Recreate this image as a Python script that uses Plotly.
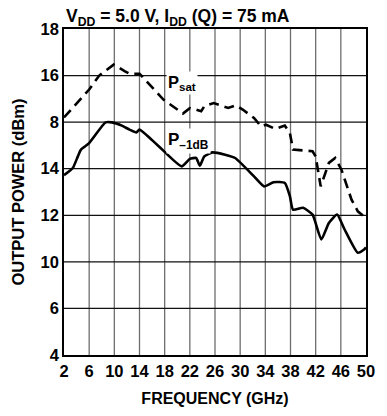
import plotly.graph_objects as go

# Data
freq_sat = [2, 4, 6, 7.6, 9.9, 11.7, 12.4, 14, 15.8, 17.8, 20.9, 22, 23, 23.8, 24.3, 25.8, 28.1, 29.3,
            30.4, 32.2, 33.3, 34.1, 35.6, 37.1, 37.9, 38.4, 41.5, 42, 42.8, 44.1, 45.1, 46.1, 47.7, 48.7, 50]
p_sat = [14.2, 14.8, 15.4, 16.0, 16.47, 16.18, 16.08, 16.08, 15.54, 14.97, 14.37, 14.6, 14.54, 14.47,
         14.68, 14.82, 14.61, 14.72, 14.54, 14.18, 13.82, 13.89, 13.71, 13.85, 13.54, 12.82, 12.75, 12.53,
         11.24, 12.25, 12.46, 11.96, 10.67, 10.17, 9.88]

freq_p1 = [2, 3.4, 4.2, 4.7, 6.0, 8.6, 9.6, 11.2, 12.4, 13.5, 14, 16.8, 20.7, 22, 23, 23.6, 24.3, 25.6,
           27.6, 29.2, 32.2, 33.8, 35.3, 37.1, 37.9, 38.4, 40, 41.5, 42.9, 44.1, 45.4, 46.6, 48.7, 49.7, 50]
p_1db = [11.72, 12.03, 12.53, 12.82, 13.1, 13.99, 13.99, 13.85, 13.68, 13.56, 13.68, 13.03, 12.1, 12.42,
         12.46, 12.13, 12.53, 12.7, 12.6, 12.46, 11.67, 11.24, 11.42, 11.39, 10.82, 10.24, 10.32, 10.03,
         8.96, 9.67, 10.03, 9.39, 8.39, 8.53, 8.62]

x_ticks = [2, 6, 10, 14, 18, 22, 26, 30, 34, 38, 42, 46, 50]
y_tickvals = [4, 6, 8, 10, 12, 14, 16, 18]
y_ticktext = ["4", "6", "10", "12", "14", "8", "16", "18"]

FONT = "Liberation Sans, Arial, sans-serif"

fig = go.Figure()
fig.add_trace(go.Scatter(x=freq_sat, y=p_sat, mode="lines",
                         line=dict(color="black", width=2.6, dash="10px,6px"),
                         showlegend=False, hoverinfo="skip"))
fig.add_trace(go.Scatter(x=freq_p1, y=p_1db, mode="lines",
                         line=dict(color="black", width=2.6, shape="spline", smoothing=0.5),
                         showlegend=False, hoverinfo="skip"))

# vertical grid lines (gray)
for xv in x_ticks[1:-1]:
    fig.add_shape(type="line", x0=xv, x1=xv, y0=4, y1=18, xref="x", yref="y",
                  line=dict(color="#6e6e6e", width=1.3), layer="below")
# horizontal grid lines (black)
for yv in y_tickvals[1:-1]:
    fig.add_shape(type="line", x0=2, x1=50, y0=yv, y1=yv, xref="x", yref="y",
                  line=dict(color="#111111", width=1.2), layer="below")

fig.update_xaxes(range=[2, 50], tickvals=x_ticks, ticktext=["<b>%d</b>" % v for v in x_ticks],
                 ticks="", showgrid=False,
                 showline=True, linecolor="black", linewidth=1.5, mirror=True, zeroline=False,
                 tickfont=dict(family=FONT, size=16.5, color="black"),
                 title=dict(text="<b>FREQUENCY (GHz)</b>", font=dict(family=FONT, size=16, color="black"),
                            standoff=14))
fig.update_yaxes(range=[4, 18], tickvals=y_tickvals, ticktext=["<b>%s</b>" % t for t in y_ticktext],
                 ticks="", showgrid=False,
                 showline=True, linecolor="black", linewidth=1.5, mirror=True, zeroline=False,
                 tickfont=dict(family=FONT, size=16.5, color="black"),
                 title=dict(text="<b>OUTPUT POWER (dBm)</b>", font=dict(family=FONT, size=16.5, color="black"),
                            standoff=12))

fig.add_annotation(x=0, y=1, xref="paper", yref="paper", xanchor="left", yanchor="bottom", yshift=-2,
                   text="<b>V<sub>DD</sub> = 5.0 V, I<sub>DD</sub> (Q) = 75 mA</b>", showarrow=False,
                   font=dict(family=FONT, size=17.5, color="black"))
fig.add_annotation(x=18.2, y=15.7, xref="x", yref="y", xanchor="left", yanchor="middle",
                   text="<b>P<sub>sat</sub></b>", showarrow=False, bgcolor="white", borderpad=1,
                   font=dict(family=FONT, size=16.5, color="black"))
fig.add_annotation(x=18.2, y=13.2, xref="x", yref="y", xanchor="left", yanchor="middle",
                   text="<b>P<sub>\u20131dB</sub></b>", showarrow=False, bgcolor="white", borderpad=1,
                   font=dict(family=FONT, size=17, color="black"))

fig.update_layout(width=387, height=416, margin=dict(l=64, r=11.5, t=29, b=60.5),
                  plot_bgcolor="white", paper_bgcolor="white")

fig.write_html("out.html")
